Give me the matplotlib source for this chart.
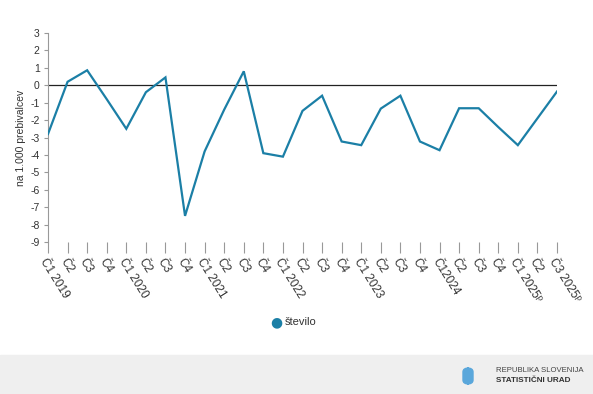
import matplotlib
matplotlib.use("Agg")
import matplotlib.pyplot as plt
import matplotlib.patches as mpatches
from matplotlib.transforms import ScaledTranslation

plt.rcParams["font.family"] = ["Liberation Sans", "DejaVu Sans"]

# quarterly values, per 1,000 inhabitants
quarters = ["Č1 2019", "Č2", "Č3", "Č4",
            "Č1 2020", "Č2", "Č3", "Č4",
            "Č1 2021", "Č2", "Č3", "Č4",
            "Č1 2022", "Č2", "Č3", "Č4",
            "Č1 2023", "Č2", "Č3", "Č4",
            "Č12024", "Č2", "Č3", "Č4",
            "Č1 2025ᵖ", "Č2", "Č3 2025ᵖ"]
values = [-2.8, 0.2, 0.86, -0.8,
          -2.5, -0.4, 0.45, -7.5,
          -3.8, -1.4, 0.8, -3.9,
          -4.1, -1.47, -0.6, -3.23,
          -3.44, -1.34, -0.6, -3.23,
          -3.73, -1.32, -1.32, -2.4,
          -3.44, -1.9, -0.36]
yticks = list(range(3, -10, -1))

line_color = "#1b7fa6"
grey = "#999999"

fig = plt.figure(figsize=(5.93, 3.94), dpi=100)
ax = fig.add_axes([48 / 593, 1 - 242 / 394, (557 - 48) / 593, (242 - 33) / 394])

x = list(range(len(values)))
ax.plot(x, values, color=line_color, lw=1.6, solid_joinstyle="miter", zorder=3)
ax.axhline(0, color="#222222", lw=0.9, zorder=2)

ax.set_xlim(0, len(values) - 1)
ax.set_ylim(-9, 3)
ax.set_yticks(yticks)
ax.set_yticklabels([str(t) for t in yticks], fontsize=7.5, color="#333333")
ax.set_xticks(x)
ax.set_xticklabels(quarters, fontsize=8.5, color="#333333",
                   rotation=-58, ha="left", va="top", rotation_mode="anchor")
off = ScaledTranslation(-16 / 100, -1 / 100, fig.dpi_scale_trans)
for lab in ax.get_xticklabels():
    lab.set_transform(lab.get_transform() + off)

for s in ["top", "right", "bottom"]:
    ax.spines[s].set_visible(False)
ax.spines["left"].set_color(grey)
ax.spines["left"].set_linewidth(0.8)
ax.tick_params(axis="x", length=8, color=grey, width=0.8, pad=2)
ax.tick_params(axis="y", length=3, color=grey, width=0.8, pad=3)
ax.set_ylabel("na 1.000 prebivalcev", fontsize=7.5, color="#333333", labelpad=3)

# legend
fig.text(276 / 593, 1 - 322 / 394, "●", color=line_color, fontsize=10,
         ha="center", va="center", family="DejaVu Sans")
fig.text(285 / 593, 1 - 322 / 394, "število", color="#333333", fontsize=8,
         ha="left", va="center")

# footer
fig.patches.append(mpatches.Rectangle((0, 0), 1, 39 / 394, transform=fig.transFigure,
                                      color="#efefef", zorder=0))
shield = mpatches.FancyBboxPatch((463 / 593, 1 - 384 / 394), 10 / 593, 16 / 394,
                                 boxstyle="round,pad=0,rounding_size=0.01",
                                 transform=fig.transFigure, color="#5aa7db", zorder=1)
fig.patches.append(shield)
fig.text(496 / 593, 1 - 370 / 394, "REPUBLIKA SLOVENIJA", fontsize=5.6,
         color="#444444", ha="left", va="center")
fig.text(496 / 593, 1 - 380 / 394, "STATISTIČNI URAD", fontsize=5.9,
         color="#333333", ha="left", va="center", weight="bold")

fig.savefig("out.png", dpi=100)
